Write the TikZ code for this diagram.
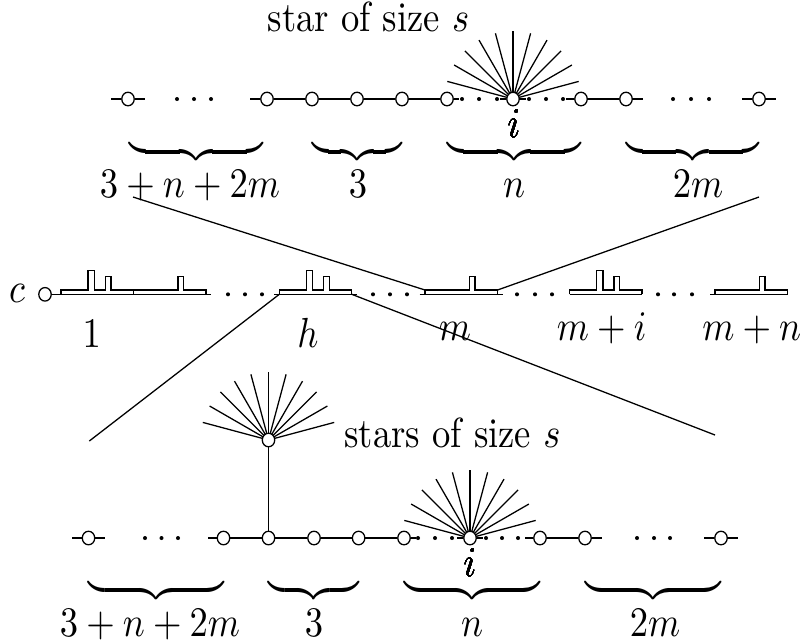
\documentclass[tikz,border=0pt]{standalone}
\usepackage{graphicx}
\usetikzlibrary{calc,shapes.geometric}
\newcommand{\T}[1]{\scalebox{1}[1.15]{#1}}
\tikzset{
  vtx/.style={ellipse,draw,fill=white,inner sep=0pt,minimum width=3.4pt,minimum height=3.7pt,line width=0.35pt},
  edge/.style={line width=0.35pt},
  ray/.style={line width=0.35pt},
  blk/.style={line width=0.35pt},
  lbl/.style={inner sep=0pt,anchor=base},
  bracenode/.style={inner sep=0pt,anchor=north},
}
\newcommand{\Brace}[4]{%
  \path let \p1=(#2,#4), \p2=(#3,#4) in
    node[bracenode] (#1) at ($(\p1)!0.5!(\p2)$) {\scalebox{1}[0.92]{\hbox to \dimexpr\x2-\x1\relax{\upbracefill}}};}
\newcommand{\Dot}[2]{\fill (#1,#2) circle[radius=0.55pt];}
\newcommand{\BlockTwo}[1]{%
  \draw[blk] (#1,294.3) -- (#1,290) -- ({#1+27},290) -- ({#1+27},270.7) -- ({#1+33.5},270.7) -- ({#1+33.5},290)
     -- ({#1+44.5},290) -- ({#1+44.5},276.7) -- ({#1+50},276.7) -- ({#1+50},290) -- ({#1+72.5},290) -- ({#1+72.5},294.3);}
\newcommand{\BlockOne}[1]{%
  \draw[blk] (#1,294.3) -- (#1,290) -- ({#1+44.5},290) -- ({#1+44.5},276.7) -- ({#1+50},276.7) -- ({#1+50},290)
     -- ({#1+72.5},290) -- ({#1+72.5},294.3);}
\begin{document}
\begin{tikzpicture}[x=0.2732pt,y=-0.2732pt]
\useasboundingbox (0,0) rectangle (803,643);

% ---------------- top row ----------------
\node[lbl] (ttitle) at (368.5,31) {\T{star of size $s$}};
\coordinate (TS) at (513,99);
\foreach \a in {15,30,...,165} \draw[ray] (TS) -- ++(-\a:68);
\node[vtx] (t1) at (128,99) {};
\node[vtx] (t2) at (267,99) {};
\node[vtx] (t3) at (312,99) {};
\node[vtx] (t4) at (357,99) {};
\node[vtx] (t5) at (402,99) {};
\node[vtx] (t6) at (447,99) {};
\node[vtx] (ts) at (TS) {};
\node[vtx] (t7) at (581,99) {};
\node[vtx] (t8) at (626,99) {};
\node[vtx] (t9) at (759,99) {};
\draw[edge] (t2) -- (t3) -- (t4) -- (t5) -- (t6);
\draw[edge] (t7) -- (t8);
\draw[edge] (t1.west) -- ++(-10,0);
\draw[edge] (t1.east) -- ++(10,0);
\draw[edge] (t2.west) -- ++(-10,0);
\draw[edge] (t6.east) -- ++(5.5,0);
\draw[edge] (ts.west) -- ++(-6,0);
\draw[edge] (ts.east) -- ++(6,0);
\draw[edge] (t7.west) -- ++(-8,0);
\draw[edge] (t8.east) -- ++(10,0);
\draw[edge] (t9.west) -- ++(-10,0);
\draw[edge] (t9.east) -- ++(10,0);
\foreach \x in {177,194,211,462,479,497,529,546,563,673,691,709} \Dot{\x}{99}
\node[lbl] (ti) at (514,137.5) {\T{$i$}};
\Brace{tb1}{129}{263}{149}
\Brace{tb2}{312}{402}{149}
\Brace{tb3}{447}{581}{149}
\Brace{tb4}{626}{759}{149}
\node[lbl] (tl1) at (190,197) {\T{$3+n+2m$}};
\node[lbl] (tl2) at (358,197) {\T{$3$}};
\node[lbl] (tl3) at (514,197) {\T{$n$}};
\node[lbl] (tl4) at (698,197) {\T{$2m$}};

% ---------------- middle row ----------------
\node[lbl] (clbl) at (17,302) {\T{$c$}};
\node[vtx] (c) at (45,294.3) {};
\coordinate (m2end) at (211,294.3);
\draw[edge] (c) -- (m2end);
\BlockTwo{61}
\BlockOne{133.5}
\foreach \x in {228,245,262,373,390,407,517,535,552,658,674,692} \Dot{\x}{294.3}
% block h
\coordinate (hBL) at (279.3,294.3);
\coordinate (hBR) at (351.8,294.3);
\draw[edge] (274,294.3) -- (356.8,294.3);
\BlockTwo{279.3}
% block m
\coordinate (mTL) at (425,290);
\coordinate (mTR) at (497.5,290);
\draw[edge] (419.5,294.3) -- (502.5,294.3);
\BlockOne{425}
% block m+i
\draw[edge] (569.5,294.3) -- (642,294.3);
\BlockTwo{569.5}
% block m+n
\draw[edge] (710,294.3) -- (787.5,294.3);
\BlockOne{715}
\node[lbl] (l1) at (91.7,347) {\T{$1$}};
\node[lbl] (lh) at (308,347) {\T{$h$}};
\node[lbl] (lm) at (455,340) {\T{$m$}};
\node[lbl] (lmi) at (601.7,340) {\T{$m+i$}};
\node[lbl] (lmn) at (751.7,340) {\T{$m+n$}};

% crossing lines
\coordinate (A0) at (133,197);
\coordinate (B0) at (759,197);
\coordinate (C1) at (89.3,441);
\coordinate (D1) at (715,435);
\draw[edge] (A0) -- (mTL);
\draw[edge] (B0) -- (mTR);
\draw[edge] (hBL) -- (C1);
\draw[edge] (hBR) -- (D1);

% ---------------- bottom row ----------------
\node[lbl] (btitle) at (452.5,447) {\T{stars of size $s$}};
\coordinate (BU) at (268.5,440);
\coordinate (BS) at (470,538);
\foreach \a in {15,30,...,165} \draw[ray] (BU) -- ++(-\a:68);
\foreach \a in {15,30,...,165} \draw[ray] (BS) -- ++(-\a:68);
\node[vtx] (bu) at (BU) {};
\node[vtx] (b1) at (88.5,538) {};
\node[vtx] (b2) at (223.5,538) {};
\node[vtx] (b3) at (268.5,538) {};
\node[vtx] (b4) at (314,538) {};
\node[vtx] (b5) at (358.6,538) {};
\node[vtx] (b6) at (404,538) {};
\node[vtx] (bs) at (BS) {};
\node[vtx] (b7) at (540,538) {};
\node[vtx] (b8) at (585,538) {};
\node[vtx] (b9) at (721,538) {};
\draw[edge] (bu) -- (b3);
\draw[edge] (b2) -- (b3) -- (b4) -- (b5) -- (b6);
\draw[edge] (b7) -- (b8);
\draw[edge] (b1.west) -- ++(-10,0);
\draw[edge] (b1.east) -- ++(10,0);
\draw[edge] (b2.west) -- ++(-9,0);
\draw[edge] (b6.east) -- ++(5.5,0);
\draw[edge] (bs.west) -- ++(-6,0);
\draw[edge] (bs.east) -- ++(6,0);
\draw[edge] (b7.west) -- ++(-8,0);
\draw[edge] (b8.east) -- ++(10,0);
\draw[edge] (b9.west) -- ++(-10,0);
\draw[edge] (b9.east) -- ++(10,0);
\foreach \x in {145,161.5,178,418,435,452,486,502,518,637,654,670} \Dot{\x}{538}
\node[lbl] (bi) at (470,576.5) {\T{$i$}};
\Brace{bb1}{88.5}{223.5}{587.5}
\Brace{bb2}{268.5}{358.6}{587.5}
\Brace{bb3}{404}{540}{587.5}
\Brace{bb4}{585}{721}{587.5}
\node[lbl] (bl1) at (150,636) {\T{$3+n+2m$}};
\node[lbl] (bl2) at (314,636) {\T{$3$}};
\node[lbl] (bl3) at (472,636) {\T{$n$}};
\node[lbl] (bl4) at (655,636) {\T{$2m$}};
\end{tikzpicture}
\end{document}
